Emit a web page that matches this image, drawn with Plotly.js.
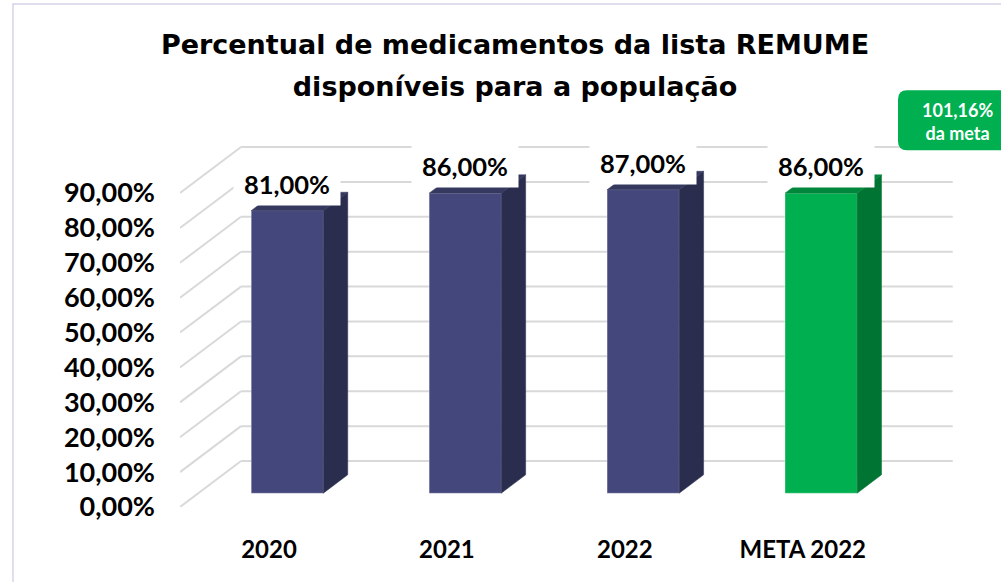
<!DOCTYPE html>
<html>
<head>
<meta charset="utf-8">
<script src="https://cdn.plot.ly/plotly-3.0.1.min.js"></script>
<style>html,body{margin:0;padding:0;background:#fff;}#chart{width:1001px;height:582px;}</style>
</head>
<body>
<div id="chart"></div>
<script>
// ---- data ----
const categories = ['2020', '2021', '2022', 'META 2022'];
const values = [81, 86, 87, 86];
const valueLabels = ['81,00%', '86,00%', '87,00%', '86,00%'];
const yTickValues = [0, 10, 20, 30, 40, 50, 60, 70, 80, 90];
const yTickLabels = ['0,00%', '10,00%', '20,00%', '30,00%', '40,00%', '50,00%', '60,00%', '70,00%', '80,00%', '90,00%'];
const titleLines = ['Percentual de medicamentos da lista REMUME', 'disponíveis para a população'];
const metaNoteLines = ['101,16%', 'da meta'];

// ---- styles / 3D projection ----
const DX = 0.343;   // depth offset along x (category units)
const DY = 13.18;   // depth offset along y (value units)
const F0 = 0.3, F1 = 0.7; // bar depth span
const BAR_W = 0.405;
const frontCol = ['#44477b', '#44477b', '#44477b', '#00b050'];
const sideCol  = ['#2b2d4f', '#2b2d4f', '#2b2d4f', '#007432'];
const topCol   = ['#35385f', '#35385f', '#35385f', '#00873b'];
const LAB_FONT = 'Lato, "Open Sans", sans-serif';

const idx = categories.map((c, i) => i);
const base = F0 * DY;
const cx = idx.map(i => i + F0 * DX);
const dDX = (F1 - F0) * DX, dDY = (F1 - F0) * DY;

const traces = [];
traces.push({
  type: 'bar', x: cx, y: values, base: values.map(() => base), width: BAR_W,
  marker: {color: frontCol, line: {color: 'rgba(255,255,255,0.25)', width: 1}},
  hoverinfo: 'skip', showlegend: false
});
values.forEach((v, i) => {
  const xl = cx[i] - BAR_W / 2, xr = cx[i] + BAR_W / 2;
  traces.push({
    type: 'scatter', mode: 'lines', fill: 'toself', fillcolor: sideCol[i],
    line: {width: 0.5, color: sideCol[i]},
    x: [xr, xr + dDX, xr + dDX, xr, xr],
    y: [base, base + dDY, base + dDY + v, base + v, base],
    hoverinfo: 'skip', showlegend: false
  });
  traces.push({
    type: 'scatter', mode: 'lines', fill: 'toself', fillcolor: topCol[i],
    line: {width: 0.5, color: topCol[i]},
    x: [xl, xr, xr + dDX, xl + dDX, xl],
    y: [base + v, base + v, base + v + dDY, base + v + dDY, base + v],
    hoverinfo: 'skip', showlegend: false
  });
});

const xmin = -0.5, xmax = categories.length - 0.5;
const shapes = [];
yTickValues.forEach(t => {
  shapes.push({type: 'line', layer: 'below', xref: 'x', yref: 'y',
    x0: xmin, y0: t, x1: xmin + DX, y1: t + DY, line: {color: '#d9d9d9', width: 2}});
  shapes.push({type: 'line', layer: 'below', xref: 'x', yref: 'y',
    x0: xmin + DX, y0: t + DY, x1: xmax + DX, y1: t + DY, line: {color: '#d9d9d9', width: 2}});
});
// chart border
shapes.push({type: 'rect', layer: 'below', xref: 'paper', yref: 'paper',
  x0: -0.2158, x1: 1.08, y0: -0.25, y1: 1.3706, line: {color: '#d4d4ea', width: 1.5}, fillcolor: 'rgba(0,0,0,0)'});
// green note box (rounded)
const bw = 112, bh = 60, r = 9;
shapes.push({type: 'path', layer: 'above', xref: 'paper', yref: 'paper',
  xsizemode: 'pixel', ysizemode: 'pixel', xanchor: 1.0, yanchor: 1.054,
  path: `M ${-bw/2 + r},${-bh/2} L ${bw/2 - r},${-bh/2} Q ${bw/2},${-bh/2} ${bw/2},${-bh/2 + r} L ${bw/2},${bh/2 - r} Q ${bw/2},${bh/2} ${bw/2 - r},${bh/2} L ${-bw/2 + r},${bh/2} Q ${-bw/2},${bh/2} ${-bw/2},${bh/2 - r} L ${-bw/2},${-bh/2 + r} Q ${-bw/2},${-bh/2} ${-bw/2 + r},${-bh/2} Z`,
  fillcolor: '#00b050', line: {width: 0}});

const annotations = values.map((v, i) => ({
  x: cx[i], y: base + v, xref: 'x', yref: 'y', text: valueLabels[i], showarrow: false,
  yshift: 27, xanchor: 'center', yanchor: 'middle', bgcolor: '#ffffff', width: 104, height: 40,
  font: {family: LAB_FONT, size: 25.5, color: '#000', weight: 'bold'}
}));
annotations.push({
  xref: 'paper', yref: 'paper', x: 1.0039, y: 1.051, showarrow: false,
  text: metaNoteLines.join('<br>'), align: 'center', xanchor: 'center', yanchor: 'middle',
  font: {family: LAB_FONT, size: 18, color: '#ffffff', weight: 'bold'}
});

const titleText = titleLines.map(t => `<span style="font-size:27px">${t}</span>`).join('<br>');

const layout = {
  width: 1001, height: 582,
  margin: {l: 180, r: 47, t: 140, b: 75},
  paper_bgcolor: '#ffffff', plot_bgcolor: 'rgba(0,0,0,0)',
  title: {
    text: titleText, xref: 'container', yref: 'container',
    x: 0.5145, y: 0.908, xanchor: 'center', yanchor: 'middle',
    font: {family: '"DejaVu Sans", sans-serif', size: 33, color: '#000', weight: 'bold'}
  },
  xaxis: {
    range: [xmin, xmax + DX + 0.007], tickvals: idx, ticktext: categories,
    showgrid: false, zeroline: false, showline: false, ticks: '',
    ticklabelstandoff: 26,
    tickfont: {family: LAB_FONT, size: 24, color: '#000', weight: 'bold'}, fixedrange: true
  },
  yaxis: {
    range: [0, 105.2], tickvals: yTickValues, ticktext: yTickLabels,
    showgrid: false, zeroline: false, showline: false, ticks: '',
    ticklabelstandoff: 24,
    tickfont: {family: LAB_FONT, size: 27, color: '#000', weight: 'bold'}, fixedrange: true
  },
  shapes: shapes, annotations: annotations, showlegend: false
};

Plotly.newPlot('chart', traces, layout, {displayModeBar: false, staticPlot: true});
</script>
</body>
</html>
